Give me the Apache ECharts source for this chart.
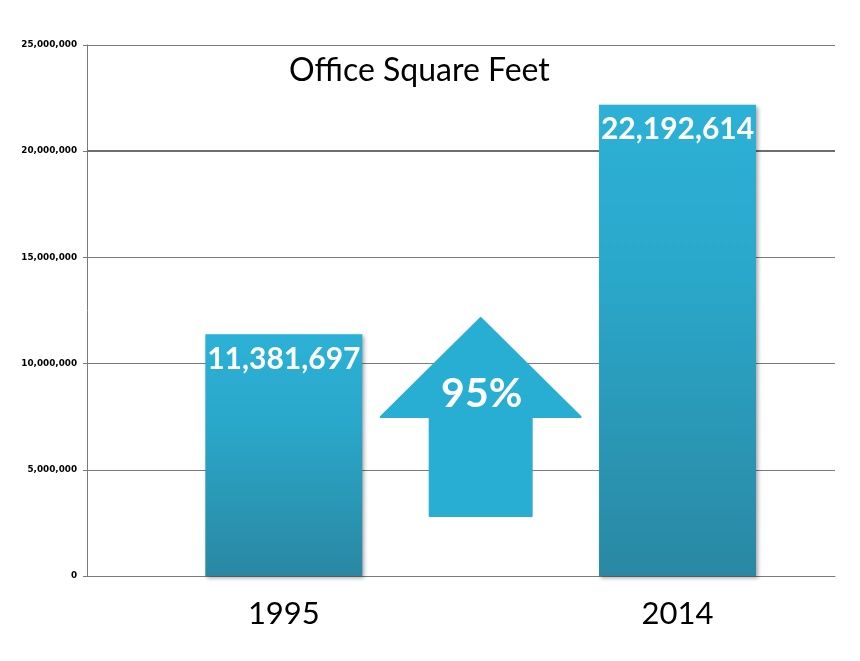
<!DOCTYPE html>
<html><head><meta charset="utf-8">
<script src="https://cdn.jsdelivr.net/npm/echarts@6/dist/echarts.min.js"></script>
<style>html,body{margin:0;padding:0;background:#fff}#c{width:860px;height:661px}</style>
</head><body><div id="c"></div>
<script>
const categories = ['1995', '2014'];
const values = [11381697, 22192614];
const yTicks = [0, 5000000, 10000000, 15000000, 20000000, 25000000];
const emphasizedGridValue = 20000000;
const arrowValues = { tip: 12150000, wing: 7490000, base: 2820000 };
const growthLabel = '95%';
const titleText = 'Office Square Feet';

const fmt = v => v.toLocaleString('en-US');
const chart = echarts.init(document.getElementById('c'), null, { renderer: 'canvas' });

const barGrad = new echarts.graphic.LinearGradient(0, 0, 0, 1, [
  { offset: 0, color: '#2cb1d6' },
  { offset: 0.35, color: '#2aa8cb' },
  { offset: 1, color: '#2a88a3' }
]);

const catIdx = categories.map((c, i) => i);
const barData = values.map((v, i) => [i, v]);

chart.setOption({
  backgroundColor: '#ffffff',
  animation: false,
  title: {
    text: titleText, left: 284, top: 50,
    textStyle: { fontFamily: 'Lato', fontWeight: 'normal', fontSize: 32, color: '#000' }
  },
  grid: { left: 87, right: 25, top: 45, bottom: 85 },
  xAxis: {
    type: 'value', min: -0.5, max: 1.4,
    axisLine: { show: true, onZero: false, lineStyle: { color: '#7a7a7a', width: 1 } },
    axisTick: { show: false },
    splitLine: { show: false },
    axisLabel: { show: true, customValues: catIdx, formatter: v => categories[Math.round(v)] || '',
      margin: 22, fontFamily: 'Lato', fontSize: 31, color: '#000' }
  },
  yAxis: {
    type: 'value', min: yTicks[0], max: yTicks[yTicks.length - 1], interval: 5000000,
    axisLine: { show: true, onZero: false, lineStyle: { color: '#7a7a7a' } },
    axisTick: { show: true, length: 4, lineStyle: { color: '#7a7a7a' } },
    axisLabel: { margin: 10, fontFamily: 'DejaVu Sans', fontWeight: 'bold', fontSize: 8.8, color: '#000', formatter: v => fmt(v) },
    splitLine: { show: true, lineStyle: { color: '#7a7a7a', width: 1 } }
  },
  series: [
    {
      type: 'bar', data: barData, barWidth: 157,
      itemStyle: { color: barGrad, shadowColor: 'rgba(0,0,0,0.35)', shadowBlur: 4, shadowOffsetX: 2, shadowOffsetY: 2 },
      label: { show: true, position: 'insideTop', distance: 10, formatter: p => fmt(p.value[1]),
        fontFamily: 'Lato', fontWeight: 'bold', fontSize: 30, color: '#fff' },
      markLine: {
        silent: true, symbol: 'none', z: 1,
        label: { show: false },
        lineStyle: { color: '#6e6e6e', width: 2, type: 'solid' },
        data: [{ yAxis: emphasizedGridValue }]
      },
      z: 2
    },
    {
      type: 'custom', data: [[arrowValues.tip, arrowValues.wing, arrowValues.base]],
      renderItem: (params, api) => {
        const a = api.coord([0, api.value(0)]);
        const b = api.coord([1, api.value(0)]);
        const cx = (a[0] + b[0]) / 2;
        const tipY = a[1];
        const wingY = api.coord([0, api.value(1)])[1];
        const baseY = api.coord([0, api.value(2)])[1];
        const wh = 100, sh = 51;
        return {
          type: 'group',
          children: [
            { type: 'polygon', shape: { points: [
                [cx, tipY], [cx + wh, wingY], [cx + sh, wingY], [cx + sh, baseY],
                [cx - sh, baseY], [cx - sh, wingY], [cx - wh, wingY]] },
              style: { fill: '#29aed3', lineJoin: 'round', stroke: '#29aed3', lineWidth: 2 } },
            { type: 'text', x: cx + 1, y: (tipY + wingY) / 2 + 26,
              style: { text: growthLabel, fill: '#fff', font: 'bold 41px Lato', align: 'center', verticalAlign: 'middle' } }
          ]
        };
      },
      z: 5
    }
  ]
});
</script></body></html>
